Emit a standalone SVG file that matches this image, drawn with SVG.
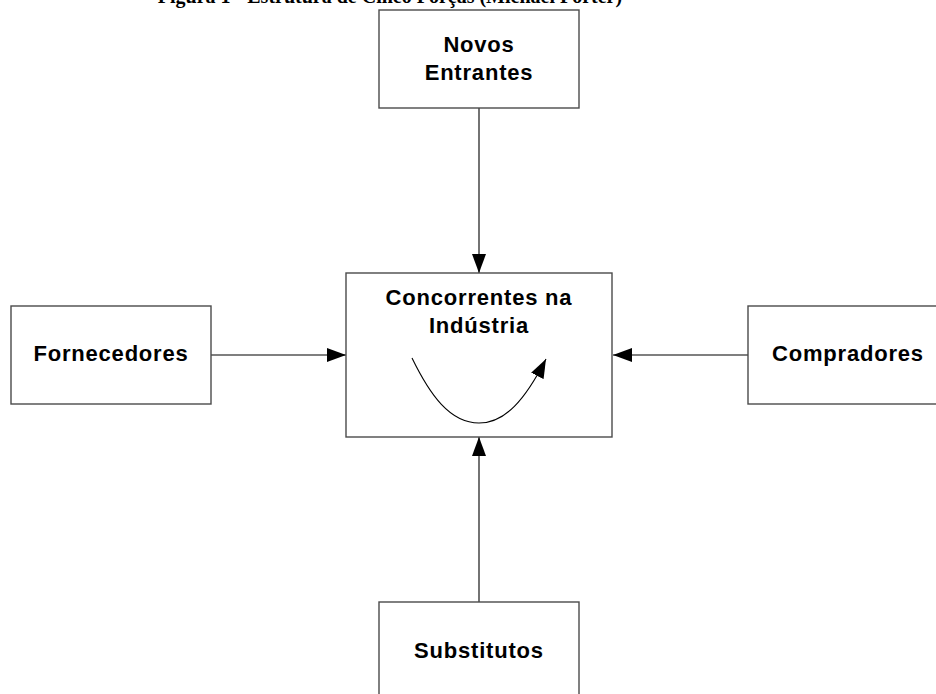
<svg xmlns="http://www.w3.org/2000/svg" width="936" height="694" viewBox="0 0 936 694">
<style>
.box{fill:#fff;stroke:#4a4a4a;stroke-width:1.4}
.lbl{font-family:"Liberation Sans",Arial,sans-serif;font-weight:bold;font-size:22px;letter-spacing:0.8px;fill:#000;text-anchor:middle}
.title{font-family:"Liberation Serif","Times New Roman",serif;font-weight:bold;font-size:20px;fill:#000;text-anchor:middle}
.con{fill:none;stroke:#000;stroke-width:1.1}
</style>
<defs>
<marker id="ah" markerUnits="userSpaceOnUse" markerWidth="20" markerHeight="14" refX="19" refY="7" orient="auto">
<path d="M0,0 L19,7 L0,14 Z" fill="#000"/>
</marker>
</defs>
<rect width="936" height="694" fill="#fff"/>
<text class="title" x="390" y="3">Figura 1 - Estrutura de Cinco Forças (Michael Porter)</text>
<g id="connectors">
<line class="con" x1="479" y1="108" x2="479" y2="273" marker-end="url(#ah)"/>
<line class="con" x1="211" y1="355" x2="346" y2="355" marker-end="url(#ah)"/>
<line class="con" x1="748" y1="355" x2="613" y2="355" marker-end="url(#ah)"/>
<line class="con" x1="479" y1="602" x2="479" y2="437" marker-end="url(#ah)"/>
</g>
<g id="novos">
<rect class="box" x="379" y="10" width="200" height="98"/>
<text class="lbl" x="479" y="52">Novos</text>
<text class="lbl" x="479" y="80">Entrantes</text>
</g>
<g id="concorrentes">
<rect class="box" x="346" y="273" width="266" height="164"/>
<text class="lbl" x="479" y="305">Concorrentes na</text>
<text class="lbl" x="479" y="333">Indústria</text>
<path class="con" d="M412,358 C430,395 450,423 479,423 C505,423 525,400 546,359" marker-end="url(#ah)"/>
</g>
<g id="fornecedores">
<rect class="box" x="11" y="306" width="200" height="98"/>
<text class="lbl" x="111" y="361">Fornecedores</text>
</g>
<g id="compradores">
<rect class="box" x="748" y="306" width="200" height="98"/>
<text class="lbl" x="848" y="361">Compradores</text>
</g>
<g id="substitutos">
<rect class="box" x="379" y="602" width="200" height="98"/>
<text class="lbl" x="479" y="658">Substitutos</text>
</g>
</svg>
